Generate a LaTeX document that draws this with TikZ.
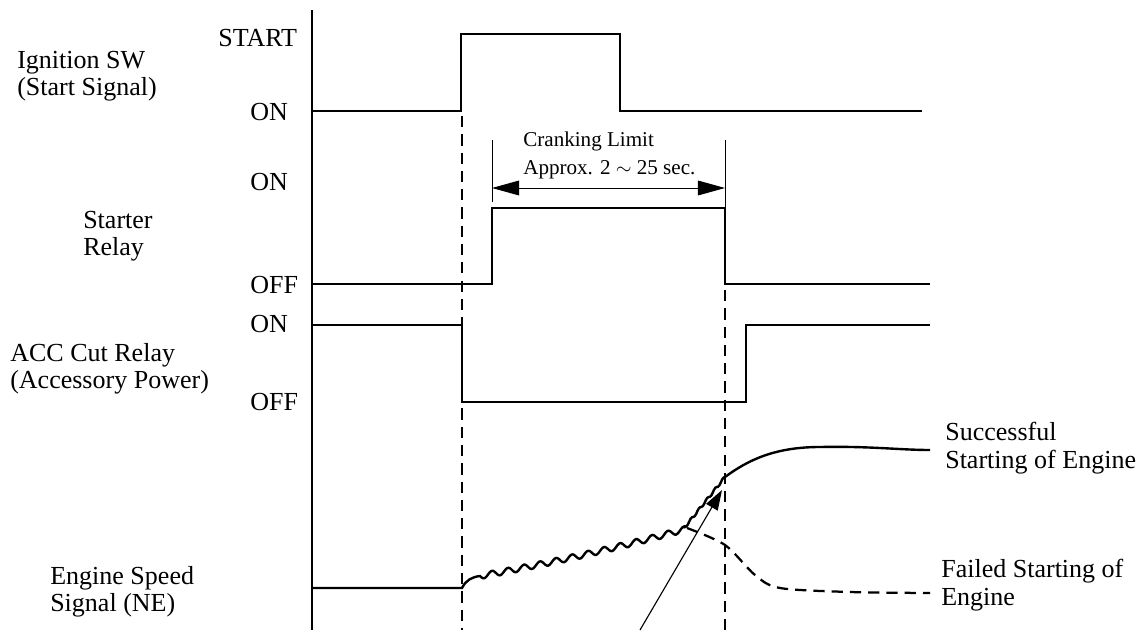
\documentclass[tikz,border=0pt]{standalone}
\usepackage{fontspec}
\setmainfont{Liberation Serif}
\usetikzlibrary{arrows.meta}
\begin{document}
\begin{tikzpicture}[x=0.025cm,y=-0.025cm,
  sig/.style={line width=1.7pt},
  guide/.style={line width=1.6pt,dash pattern=on 8pt off 5pt},
  lbl/.style={font=\fontsize{18.5}{19.5}\selectfont,inner sep=0pt,anchor=west,align=left},
  dim/.style={line width=0.7pt}]
\useasboundingbox (0,0) rectangle (1141,630);
% time axis
\draw[line width=1.5pt] (312,10) -- (312,630);
% signal names
\node[lbl] (ign) at (17,76) {Ignition SW\\(Start Signal)};
\node[lbl] (str) at (83,236) {Starter\\Relay};
\node[lbl] (acc) at (10,369) {ACC Cut Relay\\(Accessory Power)};
\node[lbl] (ne) at (50,592) {Engine Speed\\Signal (NE)};
% levels
\node[lbl] (ignst) at (218,38) {START};
\node[lbl] (ignon) at (250,112) {ON};
\node[lbl] (stron) at (250,182) {ON};
\node[lbl] (stroff) at (250,285) {OFF};
\node[lbl] (accon) at (250,324) {ON};
\node[lbl] (accoff) at (250,402) {OFF};
% waveforms
\draw[sig] (312,111) -- (461,111) -- (461,34) -- (620,34) -- (620,111) -- (922,111);
\draw[sig] (312,284) -- (492,284) -- (492,208) -- (725,208) -- (725,284) -- (930,284);
\draw[sig] (312,325) -- (462,325) -- (462,402) -- (746,402) -- (746,325) -- (930,325);
\draw[guide] (462,116) -- (462,630);
\draw[guide] (725,290) -- (725,630);
% cranking limit
\draw[dim] (492,140) -- (492,202);
\draw[dim] (725,140) -- (725,208);
\coordinate (cl) at (492,188);
\coordinate (cr) at (725,188);
\draw[dim,{Triangle[length=0.68cm,width=0.37cm]}-{Triangle[length=0.68cm,width=0.37cm]}] (cl) -- (cr);
\node[font=\fontsize{15}{20}\selectfont,inner sep=0pt,anchor=west,align=left] (crank) at (523,155)
  {Cranking Limit\\Approx. 2 $\sim$ 25 sec.};
% engine speed
\draw[sig] (312,588) -- (462,588) .. controls (466,580) and (472,577) .. (480,576)
  -- plot[domain=480:685,samples=160,smooth] (\x,{576-0.18*(\x-480)-10*((\x-480)/205)^2+3*sin(22.5*(\x-480))})
  -- plot[domain=685:725,samples=30,smooth] (\x,{527-1.25*(\x-685)+1.4*sin(45*(\x-685))})
  .. controls (748,460) and (775,447) .. (820,447) .. controls (870,446) and (900,450) .. (930,450);
\draw[guide] plot[smooth] coordinates {(687,528) (725,545) (755,575) (780,588) (850,592) (930,593)};
\node[lbl] (ok) at (945,448) {Successful\\Starting of Engine};
\node[lbl] (ng) at (941,585) {Failed Starting of\\Engine};
\coordinate (ptr) at (640,630);
\coordinate (hit) at (722,490);
\draw[line width=0.8pt,-{Triangle[length=0.5cm,width=0.33cm]}] (ptr) -- (hit);
\end{tikzpicture}
\end{document}
